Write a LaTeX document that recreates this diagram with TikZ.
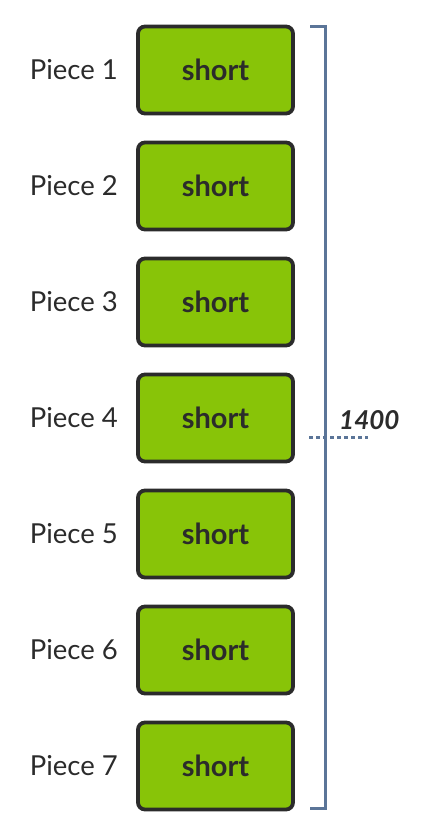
\documentclass[tikz,border=0pt]{standalone}
\usepackage{fontspec}
\setmainfont{Lato}
\definecolor{boxgreen}{HTML}{88C408}
\definecolor{boxedge}{HTML}{2B2B2B}
\definecolor{brace}{HTML}{5B7598}
\begin{document}
\begin{tikzpicture}[x=1pt,y=-1pt,
  piecebox/.style={draw=boxedge,line width=3.8pt,fill=boxgreen,rounded corners=7pt,
    minimum width=155pt,minimum height=87pt,inner sep=0pt,
    font=\fontsize{29}{33}\selectfont\bfseries,text=boxedge},
  piecelabel/.style={anchor=east,inner sep=0pt,font=\fontsize{27.5}{32}\selectfont,text=boxedge},
  bracketline/.style={draw=brace,line width=3pt},
  dimline/.style={draw=brace,line width=3pt,dash pattern=on 3.5pt off 3.5pt}]
\useasboundingbox (0,0) rectangle (427,836);
\foreach \i in {1,...,7}{
  \pgfmathsetmacro{\yc}{70+116*(\i-1)}
  \node[piecebox] (b\i) at (215.5,\yc) {short};
  \node[piecelabel] (l\i) at (118,\yc) {Piece \i};
}
\coordinate (bt) at (310,26);
\coordinate (tt) at (325,26);
\coordinate (tb) at (325,808);
\coordinate (bb) at (310,808);
\draw[bracketline] (bt) -- (tt) -- (tb) -- (bb);
\coordinate (d1) at (309,437);
\coordinate (d2) at (368,437);
\draw[dimline] (d1) -- (d2);
\node[anchor=west,inner sep=0pt,font=\fontsize{26}{30}\selectfont\bfseries\itshape,text=boxedge] (dim) at (339,420) {1400};
\end{tikzpicture}
\end{document}
